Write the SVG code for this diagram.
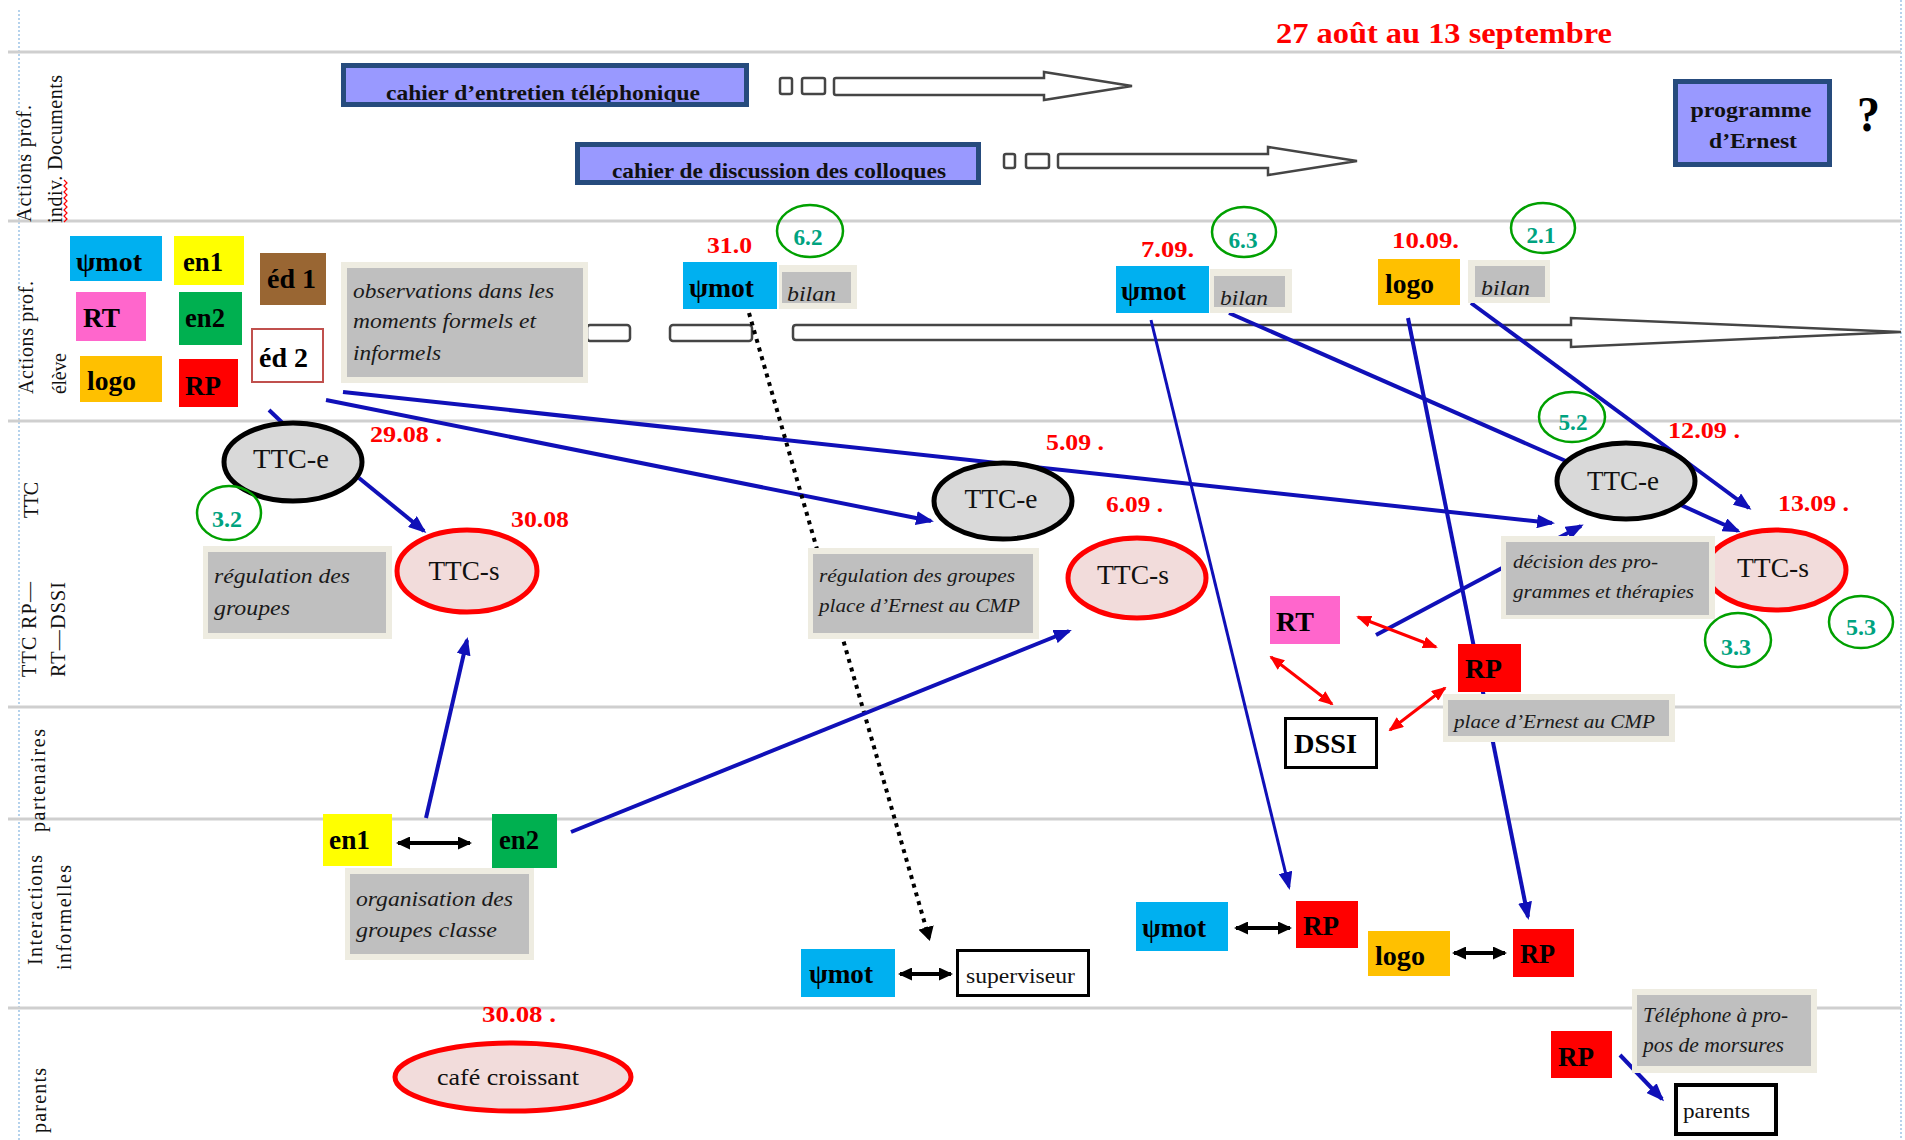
<svg xmlns="http://www.w3.org/2000/svg" width="1905" height="1140" viewBox="0 0 1905 1140">
<style>
text { font-family: 'Liberation Serif', 'Times New Roman', serif; }
.lane { font-size: 20px; fill: #111; }
.lbl { font-size: 27px; font-weight: bold; fill: #000; }
.doc { font-size: 22px; font-weight: bold; fill: #111; }
.title { font-size: 30px; font-weight: bold; fill: #ff0000; }
.date { font-size: 24px; font-weight: bold; fill: #ff0000; }
.num { font-size: 23px; font-weight: bold; fill: #00a37f; text-anchor: middle; }
.ttc { font-size: 27px; fill: #111; text-anchor: middle; }
.note { font-size: 21px; font-style: italic; fill: #1a1a1a; }
.plain { font-size: 21px; fill: #111; }
.sep { stroke: #cfcfcf; stroke-width: 3; }
.edge { stroke: #9dc3e6; stroke-width: 1.5; stroke-dasharray: 2 2; }
.tl { fill: #fff; stroke: #454545; stroke-width: 2.5; }
.docbox { fill: #9999ff; stroke: #264b7d; stroke-width: 5; }
.noteo { fill: #eeece1; }
.notei { fill: #bfbfbf; }
.ring { fill: none; stroke: #00a000; stroke-width: 2.5; }
.ttce { fill: #d9d9d9; stroke: #000; stroke-width: 5; }
.ttcs { fill: #f2dcdb; stroke: #ff0000; stroke-width: 5; }
.cyan { fill: #00b0f0; }
.yel { fill: #ffff00; }
.brn { fill: #996633; }
.pink { fill: #ff66cc; }
.grn { fill: #00b050; }
.gold { fill: #ffc000; }
.red { fill: #ff0000; }
.wbox { fill: #fff; stroke: #000; stroke-width: 3; }
.blue { stroke: #1010b8; stroke-width: 4; fill: none; }
.blue.tip { marker-end: url(#hb); }
.blk { stroke: #000; stroke-width: 4; fill: none; marker-start: url(#hk); marker-end: url(#hk); }
.rd { stroke: #ff0000; stroke-width: 3; fill: none; marker-start: url(#hr); marker-end: url(#hr); }
.dots { stroke: #000; stroke-width: 4; fill: none; stroke-dasharray: 4 5; marker-end: url(#hd); }
</style>
<defs>
  <marker id="hb" viewBox="0 0 18 14" refX="15" refY="7" markerWidth="18" markerHeight="14" markerUnits="userSpaceOnUse" orient="auto">
    <path d="M0,0 L18,7 L0,14 z" fill="#1010b8"/>
  </marker>
  <marker id="hk" viewBox="0 0 14 13" refX="12" refY="6.5" markerWidth="14" markerHeight="13" markerUnits="userSpaceOnUse" orient="auto-start-reverse">
    <path d="M0,0 L14,6.5 L0,13 z" fill="#000"/>
  </marker>
  <marker id="hr" viewBox="0 0 15 12" refX="13" refY="6" markerWidth="15" markerHeight="12" markerUnits="userSpaceOnUse" orient="auto-start-reverse">
    <path d="M0,0 L15,6 L0,12 z" fill="#ff0000"/>
  </marker>
  <marker id="hd" viewBox="0 0 14 16" refX="11" refY="8" markerWidth="14" markerHeight="16" markerUnits="userSpaceOnUse" orient="auto">
    <path d="M0,0 L14,8 L0,16 z" fill="#000"/>
  </marker>
  <clipPath id="clipTel"><rect x="346" y="68" width="398" height="34"/></clipPath>
  <clipPath id="clipColl"><rect x="580" y="147" width="396" height="33"/></clipPath>
</defs>

<rect width="1905" height="1140" fill="#fff"/>

<!-- page frame and swim-lane separators -->
<g id="lanes">
  <line class="edge" x1="19" y1="10" x2="19" y2="1140"/>
  <line class="edge" x1="1901" y1="0" x2="1901" y2="1140"/>
  <line class="sep" x1="8" y1="52" x2="1901" y2="52"/>
  <line class="sep" x1="8" y1="221" x2="1901" y2="221"/>
  <line class="sep" x1="8" y1="421" x2="1901" y2="421"/>
  <line class="sep" x1="8" y1="707" x2="1901" y2="707"/>
  <line class="sep" x1="8" y1="819" x2="1901" y2="819"/>
  <line class="sep" x1="8" y1="1008" x2="1901" y2="1008"/>

  <text class="lane" transform="translate(31,222) rotate(-90)" textLength="117" lengthAdjust="spacing">Actions prof.</text>
  <text class="lane" transform="translate(62,223) rotate(-90)" textLength="148" lengthAdjust="spacing">indiv. Documents</text>
  <path d="M64,222 l3,-3 l-3,-3 l3,-3 l-3,-3 l3,-3 l-3,-3 l3,-3 l-3,-3 l3,-3 l-3,-3 l3,-3 l-3,-3 l3,-3 l-3,-3" fill="none" stroke="#ff0000" stroke-width="1.2"/>
  <text class="lane" transform="translate(33,394) rotate(-90)" textLength="113" lengthAdjust="spacing">Actions prof.</text>
  <text class="lane" transform="translate(66,394) rotate(-90)" textLength="41" lengthAdjust="spacing">élève</text>
  <text class="lane" transform="translate(38,518) rotate(-90)" textLength="36" lengthAdjust="spacing">TTC</text>
  <text class="lane" transform="translate(36,677) rotate(-90)" textLength="95" lengthAdjust="spacing">TTC RP—</text>
  <text class="lane" transform="translate(65,677) rotate(-90)" textLength="95" lengthAdjust="spacing">RT—DSSI</text>
  <text class="lane" transform="translate(45,832) rotate(-90)" textLength="103" lengthAdjust="spacing">partenaires</text>
  <text class="lane" transform="translate(42,965) rotate(-90)" textLength="110" lengthAdjust="spacing">Interactions</text>
  <text class="lane" transform="translate(71,970) rotate(-90)" textLength="105" lengthAdjust="spacing">informelles</text>
  <text class="lane" transform="translate(46,1133) rotate(-90)" textLength="65" lengthAdjust="spacing">parents</text>

  <text class="title" x="1276" y="43" textLength="336" lengthAdjust="spacingAndGlyphs">27 août au 13 septembre</text>
</g>

<!-- hollow time arrows -->
<g id="timelines">
  <rect class="tl" x="780" y="78" width="12" height="16" rx="2"/>
  <rect class="tl" x="802" y="78" width="23" height="16" rx="2"/>
  <path class="tl" d="M836,78 H1044 V72 L1132,86 L1044,100 V95 H836 Q834,95 834,93 V80 Q834,78 836,78 Z"/>

  <rect class="tl" x="1004" y="154" width="11" height="14" rx="2"/>
  <rect class="tl" x="1026" y="154" width="23" height="14" rx="2"/>
  <path class="tl" d="M1060,154 H1268 V147 L1357,161 L1268,175 V168 H1060 Q1058,168 1058,166 V156 Q1058,154 1060,154 Z"/>

  <rect class="tl" x="587" y="325" width="43" height="16" rx="3"/>
  <rect class="tl" x="670" y="325" width="82" height="16" rx="3"/>
  <path class="tl" d="M796,325 H1571 V318 L1901,332 L1571,347 V340 H796 Q793,340 793,337 V328 Q793,325 796,325 Z"/>
</g>

<!-- connectors -->
<g id="connectors">
  <line class="blue" x1="269" y1="410" x2="292" y2="432"/>
  <line class="blue tip" x1="359" y1="478" x2="424" y2="531"/>
  <line class="blue tip" x1="326" y1="400" x2="931" y2="521"/>
  <line class="blue tip" x1="343" y1="392" x2="1552" y2="523"/>
  <line class="dots" x1="749" y1="313" x2="929" y2="938"/>
  <line class="blue tip" x1="426" y1="818" x2="467" y2="640"/>
  <line class="blue tip" x1="571" y1="832" x2="1069" y2="631"/>
  <line class="blue tip" x1="1151" y1="320" x2="1289" y2="887" style="stroke-width:3"/>
  <line class="blue" x1="1229" y1="313" x2="1575" y2="465"/>
  <line class="blue tip" x1="1408" y1="318" x2="1528" y2="917"/>
  <line class="blue tip" x1="1471" y1="303" x2="1749" y2="508"/>
  <line class="blue tip" x1="1670" y1="500" x2="1738" y2="531"/>
  <line class="blue tip" x1="1376" y1="635" x2="1581" y2="526"/>
  <line class="blue tip" x1="1620" y1="1055" x2="1662" y2="1099"/>

  <line class="blk" x1="398" y1="843" x2="470" y2="843"/>
  <line class="blk" x1="900" y1="974" x2="951" y2="974"/>
  <line class="blk" x1="1236" y1="928" x2="1290" y2="928"/>
  <line class="blk" x1="1454" y1="953" x2="1505" y2="953"/>

  <line class="rd" x1="1358" y1="617" x2="1436" y2="647"/>
  <line class="rd" x1="1271" y1="657" x2="1332" y2="704"/>
  <line class="rd" x1="1390" y1="730" x2="1445" y2="688"/>
</g>

<!-- documents -->
<g id="n-cahier-tel">
  <rect class="docbox" x="343.5" y="65.5" width="403" height="39"/>
  <text class="doc" x="386" y="100" textLength="314" lengthAdjust="spacingAndGlyphs" clip-path="url(#clipTel)">cahier d’entretien téléphonique</text>
</g>
<g id="n-cahier-coll">
  <rect class="docbox" x="577.5" y="144.5" width="401" height="38"/>
  <text class="doc" x="612" y="178" textLength="334" lengthAdjust="spacingAndGlyphs" clip-path="url(#clipColl)">cahier de discussion des colloques</text>
</g>
<g id="n-programme">
  <rect class="docbox" x="1675.5" y="81.5" width="154" height="83"/>
  <text class="doc" x="1751" y="117" text-anchor="middle" textLength="121" lengthAdjust="spacingAndGlyphs">programme</text>
  <text class="doc" x="1753" y="148" text-anchor="middle" textLength="88" lengthAdjust="spacingAndGlyphs">d’Ernest</text>
</g>
<g id="n-question">
  <text x="1857" y="131" style="font-size:50px;font-weight:bold" fill="#000" textLength="23" lengthAdjust="spacingAndGlyphs">?</text>
</g>

<!-- actors, individual lane -->
<g id="n-psimot-a"><rect class="cyan" x="70" y="236" width="92" height="45"/><text class="lbl" x="76" y="271" textLength="66" lengthAdjust="spacingAndGlyphs">ψmot</text></g>
<g id="n-en1-a"><rect class="yel" x="174" y="236" width="70" height="49"/><text class="lbl" x="183" y="271" textLength="40" lengthAdjust="spacingAndGlyphs">en1</text></g>
<g id="n-ed1"><rect class="brn" x="260" y="253" width="66" height="52"/><text class="lbl" x="267" y="288" textLength="49" lengthAdjust="spacingAndGlyphs">éd 1</text></g>
<g id="n-rt-a"><rect class="pink" x="76" y="292" width="70" height="49"/><text class="lbl" x="83" y="327" textLength="37" lengthAdjust="spacingAndGlyphs">RT</text></g>
<g id="n-en2-a"><rect class="grn" x="179" y="292" width="63" height="53"/><text class="lbl" x="185" y="327" textLength="40" lengthAdjust="spacingAndGlyphs">en2</text></g>
<g id="n-ed2"><rect x="252" y="329" width="71" height="53" fill="#fff" stroke="#c0504d" stroke-width="2"/><text class="lbl" x="259" y="367" textLength="49" lengthAdjust="spacingAndGlyphs">éd 2</text></g>
<g id="n-logo-a"><rect class="gold" x="80" y="356" width="82" height="46"/><text class="lbl" x="87" y="390" textLength="49" lengthAdjust="spacingAndGlyphs">logo</text></g>
<g id="n-rp-a"><rect class="red" x="179" y="359" width="59" height="48"/><text class="lbl" x="185" y="395" textLength="36" lengthAdjust="spacingAndGlyphs">RP</text></g>
<g id="n-obs">
  <rect class="noteo" x="341" y="262" width="247" height="121"/>
  <rect class="notei" x="347" y="268" width="236" height="109"/>
  <text class="note" x="353" y="298" textLength="201" lengthAdjust="spacingAndGlyphs">observations dans les</text>
  <text class="note" x="353" y="328" textLength="183" lengthAdjust="spacingAndGlyphs">moments formels et</text>
  <text class="note" x="353" y="360" textLength="88" lengthAdjust="spacingAndGlyphs">informels</text>
</g>

<g id="n-psimot-3108">
  <text class="date" x="707" y="253" textLength="45" lengthAdjust="spacingAndGlyphs">31.0</text>
  <ellipse class="ring" cx="810" cy="231" rx="33" ry="26"/>
  <text class="num" x="808" y="245" textLength="29" lengthAdjust="spacingAndGlyphs">6.2</text>
  <rect class="cyan" x="683" y="262" width="94" height="47"/>
  <text class="lbl" x="689" y="297" textLength="65" lengthAdjust="spacingAndGlyphs">ψmot</text>
</g>
<g id="n-bilan-1">
  <rect class="noteo" x="779" y="265" width="78" height="44"/>
  <rect class="notei" x="782" y="272" width="69" height="31"/>
  <text class="note" x="787" y="301" textLength="49" lengthAdjust="spacingAndGlyphs">bilan</text>
</g>

<g id="n-psimot-0709">
  <text class="date" x="1141" y="257" textLength="53" lengthAdjust="spacingAndGlyphs">7.09.</text>
  <ellipse class="ring" cx="1244" cy="232" rx="32" ry="25"/>
  <text class="num" x="1243" y="248" textLength="29" lengthAdjust="spacingAndGlyphs">6.3</text>
  <rect class="cyan" x="1116" y="266" width="93" height="47"/>
  <text class="lbl" x="1121" y="300" textLength="65" lengthAdjust="spacingAndGlyphs">ψmot</text>
</g>
<g id="n-bilan-2">
  <rect class="noteo" x="1210" y="269" width="82" height="44"/>
  <rect class="notei" x="1214" y="276" width="71" height="31"/>
  <text class="note" x="1220" y="305" textLength="48" lengthAdjust="spacingAndGlyphs">bilan</text>
</g>

<g id="n-logo-1009">
  <text class="date" x="1392" y="248" textLength="67" lengthAdjust="spacingAndGlyphs">10.09.</text>
  <ellipse class="ring" cx="1543" cy="228" rx="32" ry="25"/>
  <text class="num" x="1541" y="243" textLength="29" lengthAdjust="spacingAndGlyphs">2.1</text>
  <rect class="gold" x="1378" y="259" width="82" height="46"/>
  <text class="lbl" x="1385" y="293" textLength="49" lengthAdjust="spacingAndGlyphs">logo</text>
</g>
<g id="n-bilan-3">
  <rect class="noteo" x="1468" y="260" width="82" height="43"/>
  <rect class="notei" x="1475" y="266" width="70" height="31"/>
  <text class="note" x="1481" y="295" textLength="49" lengthAdjust="spacingAndGlyphs">bilan</text>
</g>

<!-- TTC meetings -->
<g id="n-ttce-2908">
  <ellipse class="ttce" cx="293" cy="462" rx="69" ry="39"/>
  <text class="ttc" x="291" y="468" textLength="76" lengthAdjust="spacingAndGlyphs">TTC-e</text>
  <text class="date" x="370" y="442" textLength="72" lengthAdjust="spacingAndGlyphs">29.08 .</text>
  <ellipse class="ring" cx="229" cy="513" rx="32" ry="27"/>
  <text class="num" x="227" y="527" textLength="30" lengthAdjust="spacingAndGlyphs">3.2</text>
</g>
<g id="n-note-regul1">
  <rect class="noteo" x="203" y="546" width="189" height="93"/>
  <rect class="notei" x="208" y="552" width="178" height="81"/>
  <text class="note" x="214" y="583" textLength="136" lengthAdjust="spacingAndGlyphs">régulation des</text>
  <text class="note" x="214" y="615" textLength="76" lengthAdjust="spacingAndGlyphs">groupes</text>
</g>
<g id="n-ttcs-3008">
  <ellipse class="ttcs" cx="467" cy="571" rx="70" ry="41"/>
  <text class="ttc" x="464" y="580" textLength="71" lengthAdjust="spacingAndGlyphs">TTC-s</text>
  <text class="date" x="511" y="527" textLength="58" lengthAdjust="spacingAndGlyphs">30.08</text>
</g>

<g id="n-ttce-0509">
  <ellipse class="ttce" cx="1003" cy="501" rx="69" ry="38"/>
  <text class="ttc" x="1001" y="508" textLength="73" lengthAdjust="spacingAndGlyphs">TTC-e</text>
  <text class="date" x="1046" y="450" textLength="58" lengthAdjust="spacingAndGlyphs">5.09 .</text>
</g>
<g id="n-ttcs-0609">
  <ellipse class="ttcs" cx="1137" cy="578" rx="69" ry="40"/>
  <text class="ttc" x="1133" y="584" textLength="72" lengthAdjust="spacingAndGlyphs">TTC-s</text>
  <text class="date" x="1106" y="512" textLength="57" lengthAdjust="spacingAndGlyphs">6.09 .</text>
</g>
<g id="n-note-regul2">
  <rect class="noteo" x="808" y="548" width="231" height="91"/>
  <rect class="notei" x="813" y="554" width="220" height="79"/>
  <text class="note" x="819" y="582" style="font-size:19px" textLength="196" lengthAdjust="spacingAndGlyphs">régulation des groupes</text>
  <text class="note" x="819" y="612" style="font-size:19px" textLength="201" lengthAdjust="spacingAndGlyphs">place d’Ernest au CMP</text>
</g>

<g id="n-ttce-1209">
  <ellipse class="ttce" cx="1626" cy="481" rx="69" ry="38"/>
  <text class="ttc" x="1623" y="490" textLength="72" lengthAdjust="spacingAndGlyphs">TTC-e</text>
  <ellipse class="ring" cx="1572" cy="417" rx="33" ry="25"/>
  <text class="num" x="1573" y="430" textLength="29" lengthAdjust="spacingAndGlyphs">5.2</text>
  <text class="date" x="1668" y="438" textLength="72" lengthAdjust="spacingAndGlyphs">12.09 .</text>
</g>
<g id="n-ttcs-1309">
  <ellipse class="ttcs" cx="1776" cy="570" rx="70" ry="40"/>
  <text class="ttc" x="1773" y="577" textLength="72" lengthAdjust="spacingAndGlyphs">TTC-s</text>
  <text class="date" x="1778" y="511" textLength="71" lengthAdjust="spacingAndGlyphs">13.09 .</text>
  <ellipse class="ring" cx="1738" cy="640" rx="33" ry="27"/>
  <text class="num" x="1736" y="655" textLength="30" lengthAdjust="spacingAndGlyphs">3.3</text>
  <ellipse class="ring" cx="1861" cy="622" rx="32" ry="26"/>
  <text class="num" x="1861" y="635" textLength="30" lengthAdjust="spacingAndGlyphs">5.3</text>
</g>
<g id="n-note-decision">
  <rect class="noteo" x="1501" y="536" width="214" height="83"/>
  <rect class="notei" x="1506" y="542" width="203" height="73"/>
  <text class="note" x="1513" y="568" style="font-size:19px" textLength="145" lengthAdjust="spacingAndGlyphs">décision des pro-</text>
  <text class="note" x="1513" y="598" style="font-size:19px" textLength="181" lengthAdjust="spacingAndGlyphs">grammes et thérapies</text>
</g>

<!-- RP / RT / DSSI coordination -->
<g id="n-rt-b"><rect class="pink" x="1270" y="596" width="70" height="48"/><text class="lbl" x="1276" y="631" textLength="38" lengthAdjust="spacingAndGlyphs">RT</text></g>
<g id="n-rp-b"><rect class="red" x="1458" y="644" width="63" height="48"/><text class="lbl" x="1465" y="678" textLength="37" lengthAdjust="spacingAndGlyphs">RP</text></g>
<g id="n-note-place">
  <rect class="noteo" x="1443" y="694" width="232" height="48"/>
  <rect class="notei" x="1448" y="700" width="221" height="36"/>
  <text class="note" x="1454" y="728" style="font-size:19px" textLength="201" lengthAdjust="spacingAndGlyphs">place d’Ernest au CMP</text>
</g>
<g id="n-dssi"><rect class="wbox" x="1285.5" y="718.5" width="91" height="49"/><text class="lbl" x="1294" y="753" textLength="63" lengthAdjust="spacingAndGlyphs">DSSI</text></g>

<!-- informal interactions -->
<g id="n-en1-b"><rect class="yel" x="323" y="814" width="69" height="52"/><text class="lbl" x="329" y="849" textLength="41" lengthAdjust="spacingAndGlyphs">en1</text></g>
<g id="n-en2-b"><rect class="grn" x="492" y="814" width="65" height="54"/><text class="lbl" x="499" y="849" textLength="40" lengthAdjust="spacingAndGlyphs">en2</text></g>
<g id="n-note-orga">
  <rect class="noteo" x="345" y="868" width="189" height="92"/>
  <rect class="notei" x="350" y="874" width="179" height="80"/>
  <text class="note" x="356" y="906" textLength="157" lengthAdjust="spacingAndGlyphs">organisation des</text>
  <text class="note" x="356" y="937" textLength="141" lengthAdjust="spacingAndGlyphs">groupes classe</text>
</g>
<g id="n-psimot-b"><rect class="cyan" x="801" y="949" width="94" height="48"/><text class="lbl" x="809" y="983" textLength="64" lengthAdjust="spacingAndGlyphs">ψmot</text></g>
<g id="n-superviseur"><rect class="wbox" x="957.5" y="950.5" width="131" height="45"/><text class="plain" x="966" y="983" textLength="109" lengthAdjust="spacingAndGlyphs">superviseur</text></g>
<g id="n-psimot-c"><rect class="cyan" x="1136" y="902" width="92" height="49"/><text class="lbl" x="1142" y="937" textLength="64" lengthAdjust="spacingAndGlyphs">ψmot</text></g>
<g id="n-rp-c"><rect class="red" x="1296" y="901" width="62" height="47"/><text class="lbl" x="1303" y="935" textLength="36" lengthAdjust="spacingAndGlyphs">RP</text></g>
<g id="n-logo-c"><rect class="gold" x="1368" y="931" width="82" height="45"/><text class="lbl" x="1375" y="965" textLength="50" lengthAdjust="spacingAndGlyphs">logo</text></g>
<g id="n-rp-d"><rect class="red" x="1513" y="929" width="61" height="48"/><text class="lbl" x="1520" y="963" textLength="35" lengthAdjust="spacingAndGlyphs">RP</text></g>

<!-- parents lane -->
<g id="n-cafe">
  <text class="date" x="482" y="1022" textLength="74" lengthAdjust="spacingAndGlyphs">30.08 .</text>
  <ellipse class="ttcs" cx="513" cy="1077" rx="118" ry="34"/>
  <text class="plain" x="508" y="1085" text-anchor="middle" style="font-size:23px" textLength="142" lengthAdjust="spacingAndGlyphs">café croissant</text>
</g>
<g id="n-note-tel">
  <rect class="noteo" x="1632" y="989" width="185" height="84"/>
  <rect class="notei" x="1637" y="995" width="174" height="71"/>
  <text class="note" x="1643" y="1022" style="font-size:20px" textLength="145" lengthAdjust="spacingAndGlyphs">Téléphone à pro-</text>
  <text class="note" x="1643" y="1052" style="font-size:20px" textLength="141" lengthAdjust="spacingAndGlyphs">pos de morsures</text>
</g>
<g id="n-rp-e"><rect class="red" x="1551" y="1031" width="61" height="47"/><text class="lbl" x="1558" y="1066" textLength="36" lengthAdjust="spacingAndGlyphs">RP</text></g>
<g id="n-parents"><rect x="1676" y="1085" width="100" height="49" fill="#fff" stroke="#000" stroke-width="4"/><text class="plain" x="1683" y="1118" textLength="67" lengthAdjust="spacingAndGlyphs">parents</text></g>
</svg>
